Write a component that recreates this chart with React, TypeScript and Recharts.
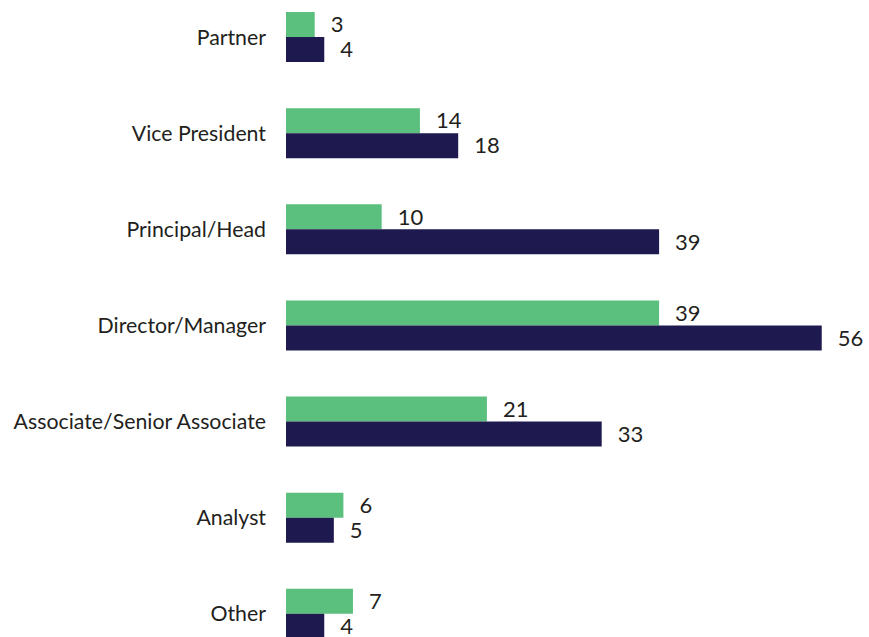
import React from 'react';
import { BarChart, Bar, XAxis, YAxis, LabelList } from 'recharts';

const categories = [
  'Partner',
  'Vice President',
  'Principal/Head',
  'Director/Manager',
  'Associate/Senior Associate',
  'Analyst',
  'Other',
];
const greenValues = [3, 14, 10, 39, 21, 6, 7];
const navyValues = [4, 18, 39, 56, 33, 5, 4];

const data = categories.map((name, i) => ({ name, green: greenValues[i], navy: navyValues[i] }));

const FONT = 'Lato, "Open Sans", sans-serif';

export default function App() {
  return (
    <div style={{ position: 'absolute', left: 0, top: -11, width: 869, height: 673 }}>
      <BarChart
        width={869}
        height={673}
        data={data}
        layout="vertical"
        margin={{ top: 0, right: 9, bottom: 0, left: 0 }}
        barGap={0}
      >
        <XAxis type="number" hide domain={[0, 60]} />
        <YAxis
          type="category"
          dataKey="name"
          width={286}
          axisLine={false}
          tickLine={false}
          tickSize={0}
          tickMargin={20}
          tick={{ fill: '#231f20', fontSize: 21.3, fontFamily: FONT }}
        />
        <Bar dataKey="green" fill="#5bbf7d" barSize={25} isAnimationActive={false}>
          <LabelList dataKey="green" position="right" offset={16} fill="#231f20" fontSize={22} fontFamily={FONT} />
        </Bar>
        <Bar dataKey="navy" fill="#1e1a4f" barSize={25} isAnimationActive={false}>
          <LabelList dataKey="navy" position="right" offset={16} fill="#231f20" fontSize={22} fontFamily={FONT} />
        </Bar>
      </BarChart>
    </div>
  );
}
